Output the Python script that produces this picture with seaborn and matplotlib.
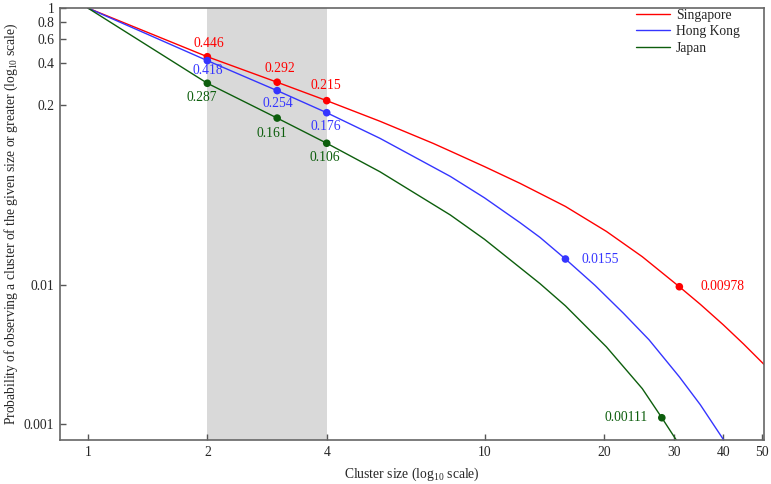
import matplotlib
matplotlib.use('Agg')
import pandas as pd
import matplotlib.pyplot as plt
import seaborn as sns

# Complementary cumulative cluster size distributions
countries = ['Singapore', 'Hong Kong', 'Japan']

size_sg = [1, 2, 3, 4, 5.45, 7.43, 8.2, 10, 12.3, 14.6, 16, 20.3, 25, 31, 35, 40, 45, 50.7]
prob_sg = [1, 0.446, 0.292, 0.215, 0.1527, 0.1056, 0.093, 0.0719, 0.0544, 0.0424, 0.0371,
           0.0245, 0.0161, 0.00978, 0.00731, 0.0052, 0.00378, 0.00269]

size_hk = [1, 2, 3, 4, 5.45, 8.2, 10, 12.3, 13.8, 16, 19, 22.4, 26, 31, 35, 40.2]
prob_hk = [1, 0.418, 0.254, 0.176, 0.115, 0.0611, 0.0428, 0.0283, 0.0222, 0.0155, 0.0100,
           0.0063, 0.00405, 0.00219, 0.00138, 0.00076]

size_jp = [1, 2, 3, 4, 5.45, 8.2, 10, 12.3, 13.8, 16, 20.3, 25, 28, 30.7]
prob_jp = [1, 0.287, 0.161, 0.106, 0.066, 0.0322, 0.0215, 0.0134, 0.0103, 0.00712, 0.0036,
           0.0018, 0.00111, 0.00074]

# Highlighted (annotated) points
mark_size = {'Singapore': [2, 3, 4, 31], 'Hong Kong': [2, 3, 4, 16], 'Japan': [2, 3, 4, 28]}
mark_prob = {'Singapore': [0.446, 0.292, 0.215, 0.00978],
             'Hong Kong': [0.418, 0.254, 0.176, 0.0155],
             'Japan': [0.287, 0.161, 0.106, 0.00111]}

xticks = [1, 2, 4, 10, 20, 30, 40, 50]
yticks = [0.001, 0.01, 0.2, 0.4, 0.6, 0.8, 1]
ytick_labels = ['0.001', '0.01', '0.2', '0.4', '0.6', '0.8', '1']

colors = {'Singapore': '#ff0000', 'Hong Kong': '#3535ff', 'Japan': '#0d5e0d'}
# label offsets in pixels (dx, dy, ha)
label_offsets = {
    'Singapore': [(2, 13.5, 'center'), (3, 14, 'center'), (-1, 15.5, 'center'), (21, 0, 'left')],
    'Hong Kong': [(0, -10, 'center'), (1, -13, 'center'), (-1, -14, 'center'), (16, 0, 'left')],
    'Japan': [(-6, -14, 'center'), (-5, -15, 'center'), (-2, -14, 'center'), (-14, 0, 'right')],
}

# Build long dataframes
curves = pd.concat([
    pd.DataFrame({'size': size_sg, 'prob': prob_sg, 'country': 'Singapore'}),
    pd.DataFrame({'size': size_hk, 'prob': prob_hk, 'country': 'Hong Kong'}),
    pd.DataFrame({'size': size_jp, 'prob': prob_jp, 'country': 'Japan'}),
], ignore_index=True)
marks = pd.concat([
    pd.DataFrame({'size': mark_size[c], 'prob': mark_prob[c], 'country': c}) for c in countries
], ignore_index=True)

sns.set_style('ticks')
plt.rcParams['font.family'] = ['Liberation Serif', 'DejaVu Serif']
plt.rcParams['mathtext.fontset'] = 'custom'
plt.rcParams['mathtext.rm'] = 'Liberation Serif'
plt.rcParams['mathtext.it'] = 'Liberation Serif:italic'
fs = 9.8

fig = plt.figure(figsize=(7.71, 4.84), dpi=100)
ax = fig.add_axes([0.0778, 0.0909, 0.9132, 0.8936])

# Shaded size range
ax.axvspan(2, 4, color='#d9d9d9', lw=0, zorder=0)

sns.lineplot(data=curves, x='size', y='prob', hue='country', hue_order=countries,
             palette=colors, lw=1, ax=ax, sort=False, estimator=None)
sns.scatterplot(data=marks, x='size', y='prob', hue='country', hue_order=countries,
                palette=colors, s=30, linewidth=0, legend=False, ax=ax, zorder=5)

for c in countries:
    for x, y, (dx, dy, ha) in zip(mark_size[c], mark_prob[c], label_offsets[c]):
        ax.annotate(f'{y:g}', (x, y), xytext=(dx, dy), textcoords='offset pixels',
                    ha=ha, va='center', color=colors[c], fontsize=fs)

ax.set_xscale('log')
ax.set_yscale('log')
ax.set_xlim(0.85, 50.7)
ax.set_ylim(0.000767, 1.01)
ax.set_xticks(xticks)
ax.set_xticklabels([str(t) for t in xticks])
ax.set_yticks(yticks)
ax.set_yticklabels(ytick_labels)
ax.minorticks_off()
ax.tick_params(direction='in', length=4, width=1, color='#555555', labelsize=fs, pad=4)
for sp in ax.spines.values():
    sp.set_color('#666666')
    sp.set_linewidth(1.2)

ax.set_xlabel('Cluster size (log$_{10}$ scale)', fontsize=fs, labelpad=5)
ax.set_ylabel('Probability of observing a cluster of the given size or greater (log$_{10}$ scale)',
              fontsize=fs, labelpad=3)

handles, labels = ax.get_legend_handles_labels()
ax.legend(handles, labels, loc='upper left', bbox_to_anchor=(0.818, 0.997), frameon=False,
          fontsize=fs, handlelength=2.5, handletextpad=0.45, labelspacing=0.25,
          borderaxespad=0, borderpad=0)

fig.savefig('out.png', dpi=100)
